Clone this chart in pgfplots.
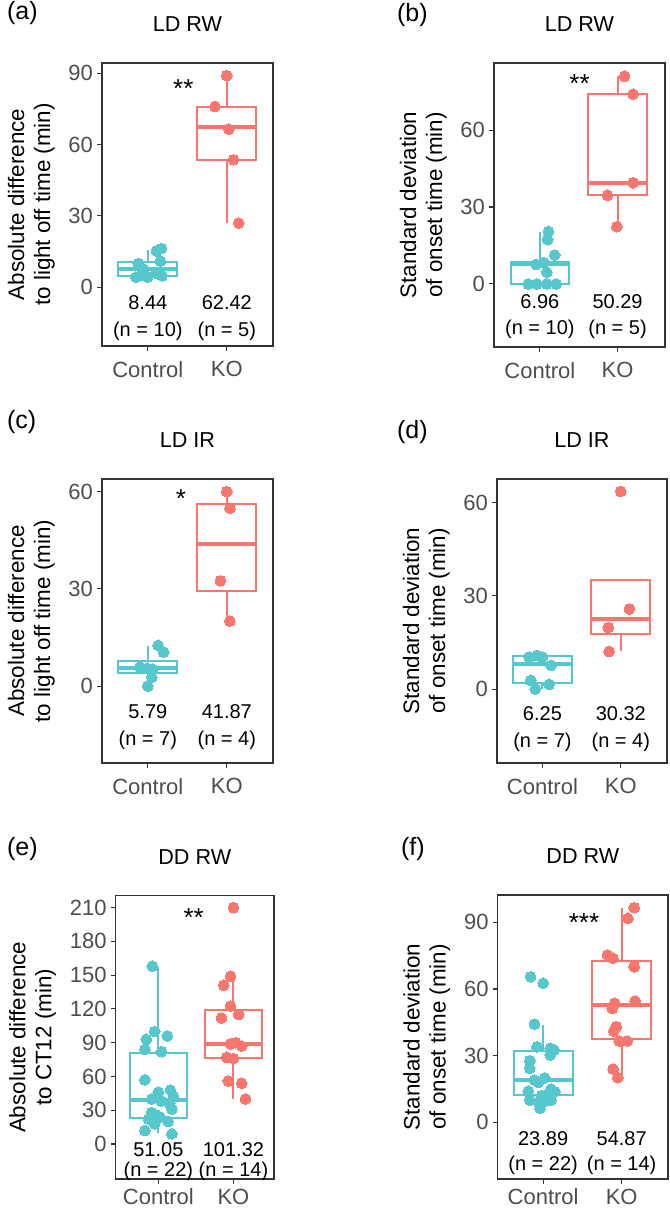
\documentclass[border=0pt]{standalone}
\usepackage{fontspec}
\setmainfont{Liberation Sans}
\usepackage{pgfplots}
\pgfplotsset{compat=1.18}
\usepgfplotslibrary{statistics}
\definecolor{ctl}{RGB}{86,199,204}
\definecolor{ko}{RGB}{248,118,109}
\definecolor{frm}{RGB}{51,51,51}
\definecolor{tickl}{RGB}{77,77,77}
\newcommand{\annf}{\fontsize{10}{12}\selectfont}
\newcommand{\starf}{\fontsize{13}{15}\selectfont}
\pgfplotsset{
  gg/.style={
    scale only axis, clip=false,
    xtick={1,2}, xticklabels={Control,KO},
    tick align=outside, xtick pos=bottom, ytick pos=left,
    major tick length=2.5pt,
    axis line style={draw=frm, line width=0.55pt},
    every tick/.style={draw=frm, line width=0.55pt},
    tick label style={font=\fontsize{11}{13}\selectfont, text=tickl},
    /pgf/number format/assume math mode=true,
    xticklabel style={yshift=-1.7pt},
    yticklabel style={xshift=1.5pt},
    ylabel style={align=center, font=\fontsize{11.2}{13}\selectfont},
    minor tick num=0,
  },
  bx/.style={draw=#1, fill=white, line width=1pt, solid, mark=none,
    boxplot/draw direction=y,
    boxplot/box extend=0.75, boxplot/whisker extend=0,
    boxplot/every median/.style={draw=#1, line width=2pt}},
  pts/.style={only marks, color=#1, mark=*, mark size=2.7pt, mark options={solid, draw=#1, fill=#1, line width=0pt}},
}
\begin{document}
\begin{tikzpicture}
\path[use as bounding box] (0pt,0pt) rectangle (334.5pt,-604pt);

% ---------- (a)
\node[anchor=base west, font=\fontsize{12.5}{14}\selectfont] at (0pt,-10pt) {(a)};
\begin{axis}[gg, at={(51pt,-31.5pt)}, anchor=north west, width=85.5pt, height=141.5pt,
  xmin=0.42, xmax=2.585, ymin=-24.7, ymax=94.3, ytick={0,30,60,90},
  ylabel={Absolute difference\\to light off time (min)}]
\addplot[bx=ctl, boxplot prepared={draw position=1, lower whisker=4.2, lower quartile=4.8, median=7.5, upper quartile=10.6, upper whisker=15.7}] coordinates {};
\addplot[bx=ko, boxplot prepared={draw position=2, lower whisker=27.2, lower quartile=53.6, median=67.3, upper quartile=76.0, upper whisker=89.3}] coordinates {};
\addplot[pts=ctl] coordinates {(1.17,16.3) (1.11,15.3) (1.16,11.0) (0.88,10.0) (0.95,7.5) (1.10,6.0) (0.92,5.0) (1.18,4.8) (1.00,4.3) (0.85,4.2)};
\addplot[pts=ko] coordinates {(1.85,76.0) (2.0,89.0) (2.025,66.5) (2.085,53.6) (2.15,27.0)};
\node[anchor=base, font=\annf] at (axis cs:1,-9.5) {8.44};
\node[anchor=base, font=\annf] at (axis cs:2,-9.5) {62.42};
\node[anchor=base, font=\annf] at (axis cs:1,-20.8) {(n = 10)};
\node[anchor=base, font=\annf] at (axis cs:2,-20.8) {(n = 5)};
\node[anchor=base, font=\starf] at (axis cs:1.45,80.0) {**};
\node[anchor=base, font=\fontsize{10.8}{13}\selectfont] at (rel axis cs:0.5,1) [yshift=15.6pt] {LD RW};
\end{axis}

% ---------- (b)
\node[anchor=base west, font=\fontsize{12.5}{14}\selectfont] at (195pt,-10.8pt) {(b)};
\begin{axis}[gg, at={(247pt,-31.5pt)}, anchor=north west, width=85.5pt, height=142pt,
  xmin=0.41, xmax=2.61, ymin=-24.6, ymax=86.2, ytick={0,30,60},
  ylabel={Standard deviation\\of onset time (min)}]
\addplot[bx=ctl, boxplot prepared={draw position=1, lower whisker=0, lower quartile=0, median=7.7, upper quartile=8.7, upper whisker=20.2}] coordinates {};
\addplot[bx=ko, boxplot prepared={draw position=2, lower whisker=22.4, lower quartile=34.7, median=39.5, upper quartile=74.0, upper whisker=81.2}] coordinates {};
\addplot[pts=ctl] coordinates {(1.11,20.5) (1.10,17.3) (1.19,11.3) (1.05,8.3) (0.95,7.6) (1.09,4.6) (0.85,0) (0.96,0) (1.09,0) (1.21,0)};
\addplot[pts=ko] coordinates {(2.09,81.0) (2.2,74.0) (2.2,39.5) (1.87,34.6) (1.99,22.35)};
\node[anchor=base, font=\annf] at (axis cs:1,-9.5) {6.96};
\node[anchor=base, font=\annf] at (axis cs:2,-9.5) {50.29};
\node[anchor=base, font=\annf] at (axis cs:1,-19.9) {(n = 10)};
\node[anchor=base, font=\annf] at (axis cs:2,-19.9) {(n = 5)};
\node[anchor=base, font=\starf] at (axis cs:1.51,74.5) {**};
\node[anchor=base, font=\fontsize{10.8}{13}\selectfont] at (rel axis cs:0.5,1) [yshift=15.6pt] {LD RW};
\end{axis}

% ---------- (c)
\node[anchor=base west, font=\fontsize{12.5}{14}\selectfont] at (0pt,-214pt) {(c)};
\begin{axis}[gg, at={(51pt,-239.5pt)}, anchor=north west, width=85.5pt, height=142pt,
  xmin=0.42, xmax=2.585, ymin=-23.7, ymax=63.9, ytick={0,30,60},
  ylabel={Absolute difference\\to light off time (min)}]
\addplot[bx=ctl, boxplot prepared={draw position=1, lower whisker=0, lower quartile=4.0, median=5.6, upper quartile=7.8, upper whisker=12.3}] coordinates {};
\addplot[bx=ko, boxplot prepared={draw position=2, lower whisker=20.1, lower quartile=29.3, median=43.7, upper quartile=56.2, upper whisker=60.0}] coordinates {};
\addplot[pts=ctl] coordinates {(1.13,12.6) (1.20,10.5) (0.90,5.9) (0.99,5.5) (1.06,5.2) (1.05,2.7) (1.0,0)};
\addplot[pts=ko] coordinates {(2.0,60.0) (2.04,54.9) (1.92,32.5) (2.04,20.1)};
\node[anchor=base, font=\annf] at (axis cs:1,-10.0) {5.79};
\node[anchor=base, font=\annf] at (axis cs:2,-10.0) {41.87};
\node[anchor=base, font=\annf] at (axis cs:1,-18.2) {(n = 7)};
\node[anchor=base, font=\annf] at (axis cs:2,-18.2) {(n = 4)};
\node[anchor=base, font=\starf] at (axis cs:1.42,55.0) {*};
\node[anchor=base, font=\fontsize{10.8}{13}\selectfont] at (rel axis cs:0.5,1) [yshift=15.6pt] {LD IR};
\end{axis}

% ---------- (d)
\node[anchor=base west, font=\fontsize{12.5}{14}\selectfont] at (195pt,-219pt) {(d)};
\begin{axis}[gg, at={(248.5pt,-239.5pt)}, anchor=north west, width=85pt, height=142pt,
  xmin=0.42, xmax=2.59, ymin=-23.8, ymax=67.6, ytick={0,30,60},
  ylabel={Standard deviation\\of onset time (min)}]
\addplot[bx=ctl, boxplot prepared={draw position=1, lower whisker=0, lower quartile=1.9, median=8.2, upper quartile=10.5, upper whisker=10.8}] coordinates {};
\addplot[bx=ko, boxplot prepared={draw position=2, lower whisker=12.2, lower quartile=17.8, median=22.7, upper quartile=35.2, upper whisker=35.2}] coordinates {};
\addplot[pts=ctl] coordinates {(0.83,10.3) (1.0,10.3) (0.93,10.8) (1.11,7.6) (0.85,2.8) (1.085,1.5) (0.91,0)};
\addplot[pts=ko] coordinates {(2.0,63.6) (2.11,25.8) (1.84,19.8) (1.85,12.1)};
\node[anchor=base, font=\annf] at (axis cs:1,-10.1) {6.25};
\node[anchor=base, font=\annf] at (axis cs:2,-10.1) {30.32};
\node[anchor=base, font=\annf] at (axis cs:1,-18.7) {(n = 7)};
\node[anchor=base, font=\annf] at (axis cs:2,-18.7) {(n = 4)};
\node[anchor=base, font=\fontsize{10.8}{13}\selectfont] at (rel axis cs:0.5,1) [yshift=15.6pt] {LD IR};
\end{axis}

% ---------- (e)
\node[anchor=base west, font=\fontsize{12.5}{14}\selectfont] at (0pt,-427.5pt) {(e)};
\begin{axis}[gg, at={(57.8pt,-447.8pt)}, anchor=north west, width=79.2pt, height=141.7pt,
  xmin=0.43, xmax=2.54, ymin=-31.1, ymax=220.7, ytick={0,30,60,90,120,150,180,210},
  xticklabel style={inner ysep=0.4pt, yshift=-0.2pt},
  ylabel={Absolute difference\\to CT12 (min)}]
\addplot[bx=ctl, boxplot prepared={draw position=1, lower whisker=9.5, lower quartile=22.8, median=39.1, upper quartile=80.6, upper whisker=157.6}] coordinates {};
\addplot[bx=ko, boxplot prepared={draw position=2, lower whisker=40, lower quartile=76.7, median=88.9, upper quartile=119.1, upper whisker=148.7}] coordinates {};
\addplot[pts=ctl] coordinates {(0.92,158) (0.95,100) (1.12,96) (0.84,93) (0.82,84) (1.04,82) (0.82,57) (1.16,48) (1.0,46) (1.2,42) (0.91,40) (1.04,38) (1.15,36) (1.18,31) (0.91,28) (0.96,26) (1.02,24) (0.87,22) (1.13,20) (0.95,18) (0.82,12) (1.18,9)};
\addplot[pts=ko] coordinates {(2.0,210) (1.96,149) (1.87,141) (1.96,122.5) (2.07,115) (1.84,112) (2.03,90) (1.96,89) (2.11,87) (1.91,77) (2.0,76) (1.93,56) (2.11,54) (2.16,40)};
\node[anchor=base, font=\annf] at (axis cs:1,-10.7) {51.05};
\node[anchor=base, font=\annf] at (axis cs:2,-10.7) {101.32};
\node[anchor=base, font=\annf] at (axis cs:1,-29.1) {(n = 22)};
\node[anchor=base, font=\annf] at (axis cs:2,-29.1) {(n = 14)};
\node[anchor=base, font=\starf] at (axis cs:1.47,192.9) {**};
\node[anchor=base, font=\fontsize{10.8}{13}\selectfont] at (rel axis cs:0.5,1) [yshift=15.6pt] {DD RW};
\end{axis}

% ---------- (f)
\node[anchor=base west, font=\fontsize{12.5}{14}\selectfont] at (197pt,-427.5pt) {(f)};
\begin{axis}[gg, at={(248.8pt,-447.5pt)}, anchor=north west, width=85.2pt, height=142pt,
  xmin=0.42, xmax=2.59, ymin=-25.5, ymax=102.3, ytick={0,30,60,90},
  xticklabel style={inner ysep=0.4pt, yshift=-0.2pt},
  ylabel={Standard deviation\\of onset time (min)}]
\addplot[bx=ctl, boxplot prepared={draw position=1, lower whisker=6.3, lower quartile=12.3, median=19.0, upper quartile=32.1, upper whisker=43.8}] coordinates {};
\addplot[bx=ko, boxplot prepared={draw position=2, lower whisker=20.5, lower quartile=37.5, median=52.8, upper quartile=72.6, upper whisker=96.3}] coordinates {};
\addplot[pts=ctl] coordinates {(0.84,65.5) (1.0,62.6) (0.89,44.2) (0.92,34) (1.09,33.3) (1.14,32.5) (1.09,30.3) (0.83,27.7) (0.83,24.3) (0.89,19) (1.02,20) (0.94,18) (1.10,15) (0.81,14) (1.15,13.8) (1.06,12.5) (0.98,12) (0.83,10) (1.10,10) (1.03,9.6) (0.94,9) (0.96,6.3)};
\addplot[pts=ko] coordinates {(2.16,96.6) (2.08,91.8) (1.82,75.3) (1.89,73.8) (2.16,70) (1.91,53.6) (2.17,54.6) (1.88,51.3) (1.93,43) (1.90,41.1) (1.97,36.6) (2.07,36.6) (1.89,24) (1.95,20.1)};
\node[anchor=base, font=\annf] at (axis cs:1,-10.2) {23.89};
\node[anchor=base, font=\annf] at (axis cs:2,-10.2) {54.87};
\node[anchor=base, font=\annf] at (axis cs:1,-21.5) {(n = 22)};
\node[anchor=base, font=\annf] at (axis cs:2,-21.5) {(n = 14)};
\node[anchor=base, font=\starf] at (axis cs:1.52,86.0) {***};
\node[anchor=base, font=\fontsize{10.8}{13}\selectfont] at (rel axis cs:0.5,1) [yshift=15.6pt] {DD RW};
\end{axis}
\end{tikzpicture}
\end{document}
